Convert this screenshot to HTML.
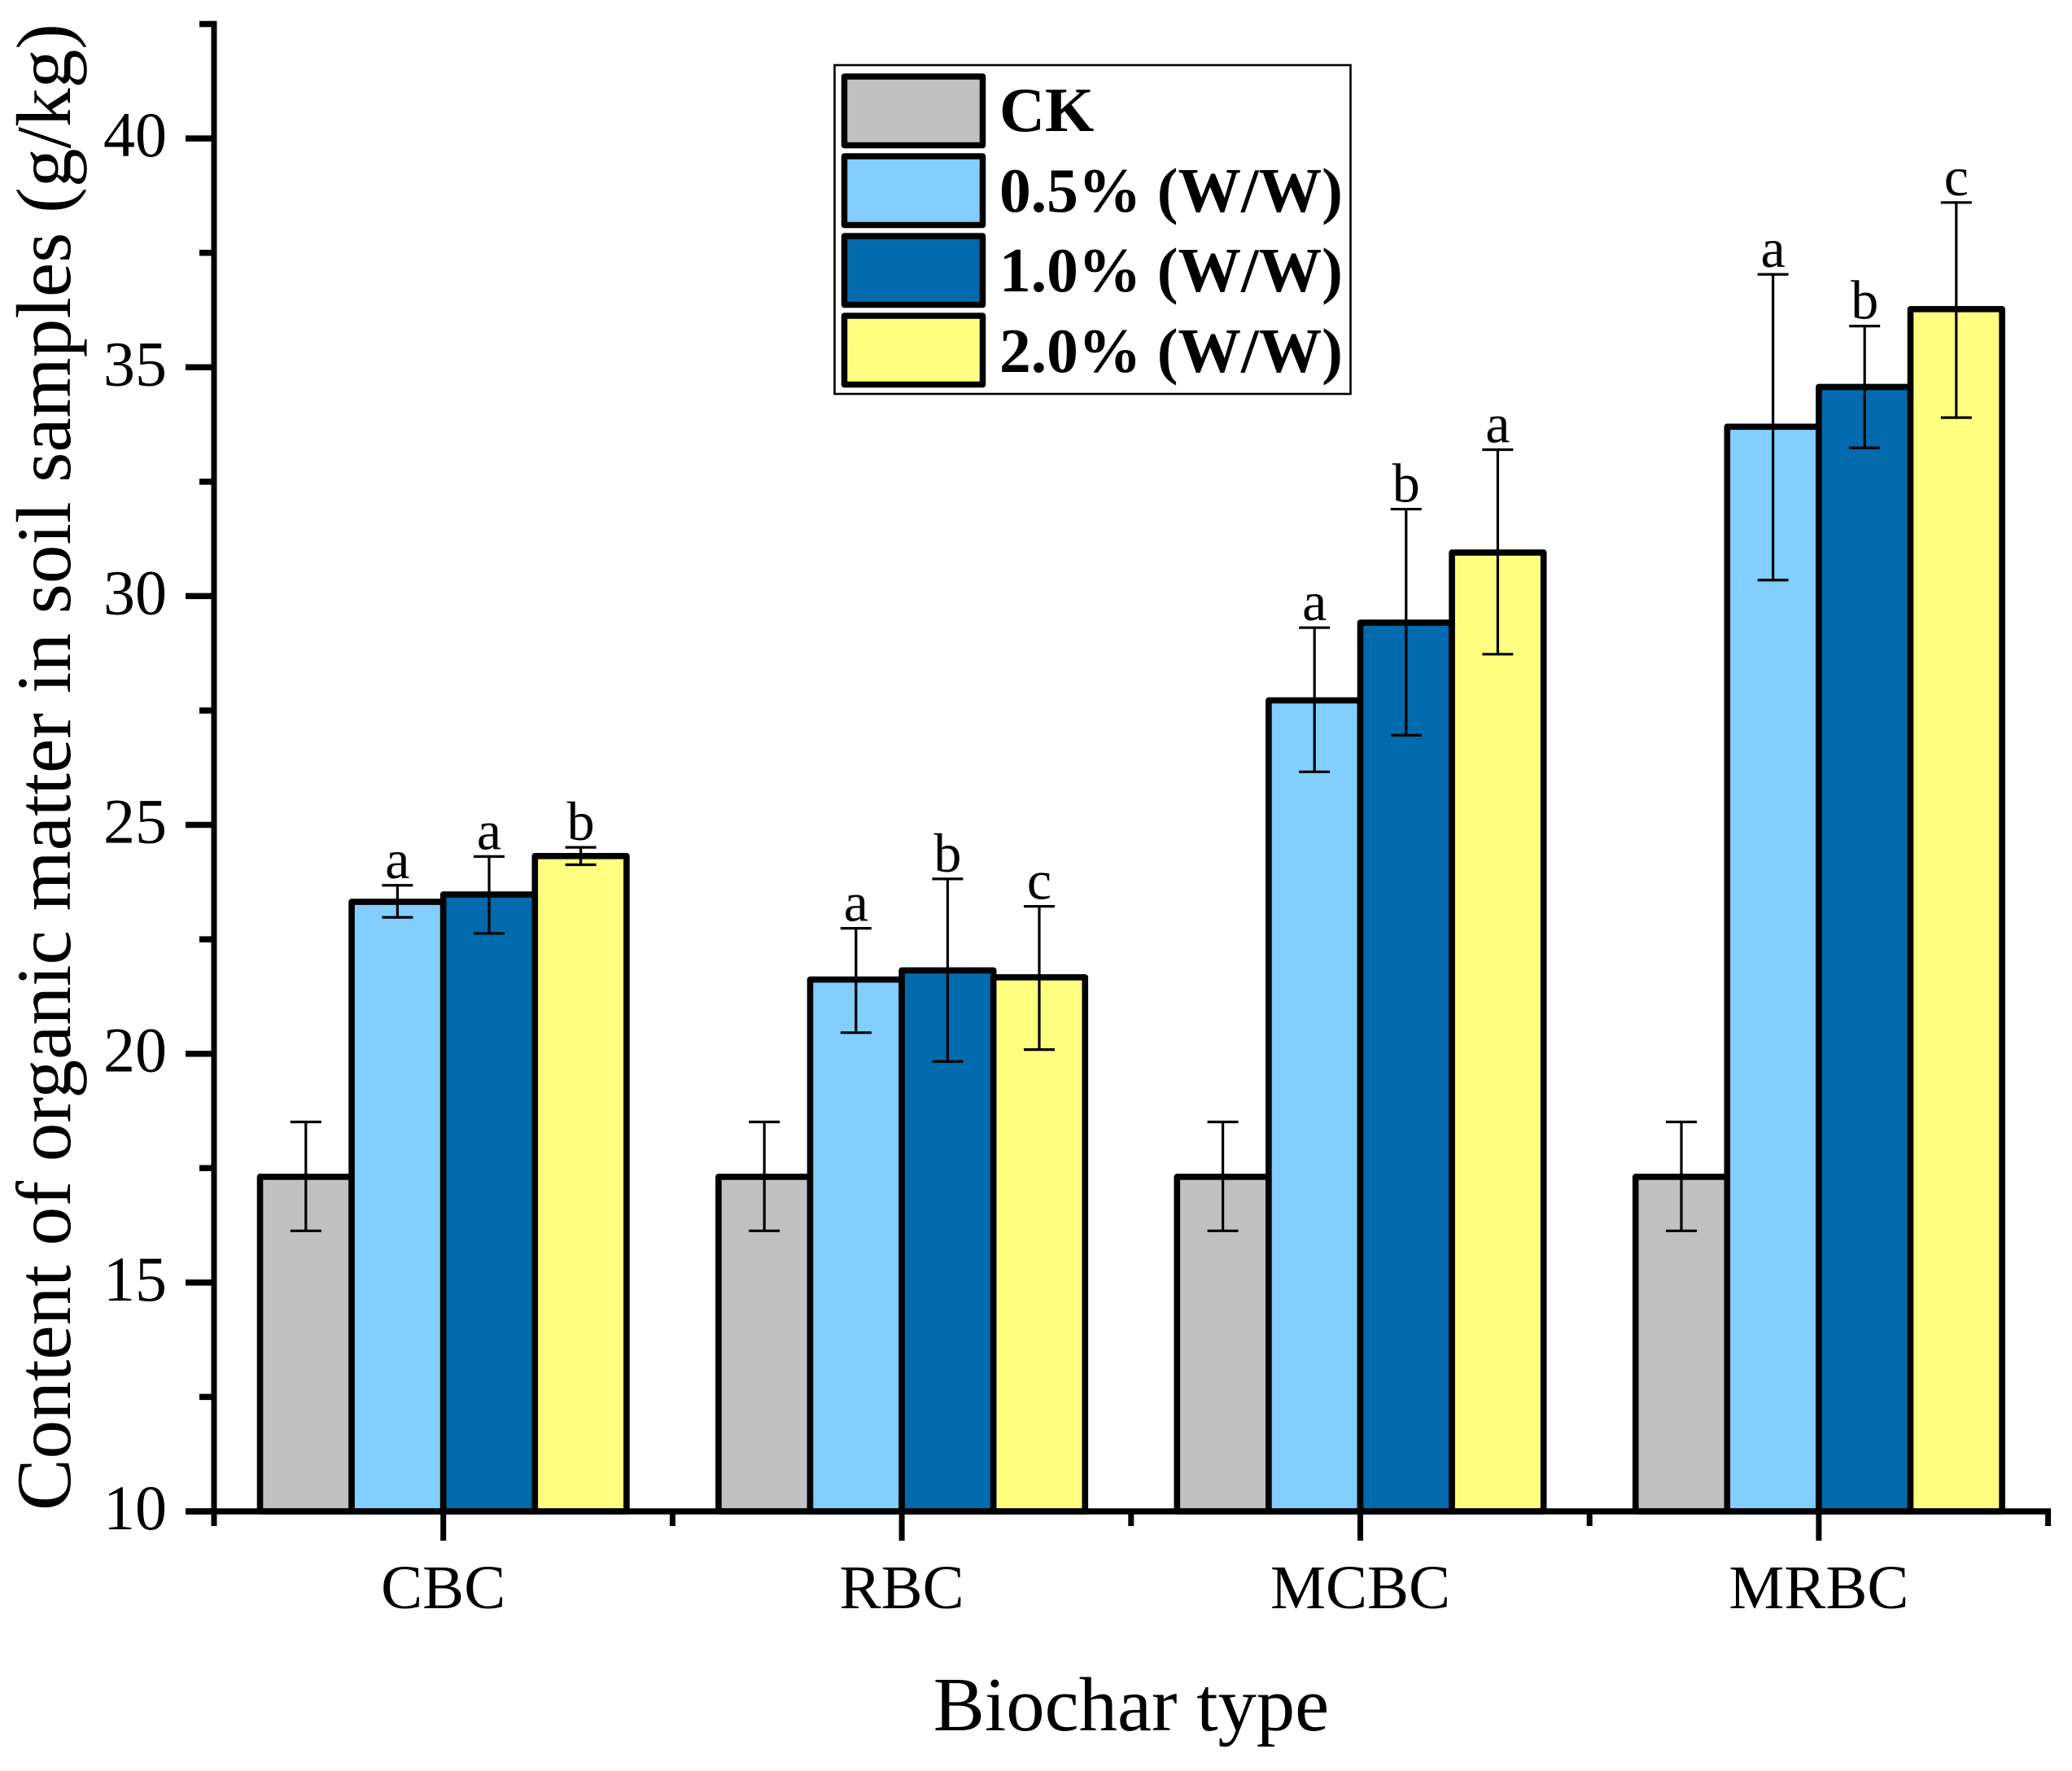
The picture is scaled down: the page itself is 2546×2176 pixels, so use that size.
<!DOCTYPE html>
<html lang="en">
<head>
<meta charset="utf-8">
<title>Content of organic matter in soil samples by biochar type</title>
<style>
  html, body { margin: 0; padding: 0; background: #ffffff; }
  body { width: 2546px; height: 2176px; overflow: hidden; }
  svg { display: block; }
  text { font-family: "Liberation Serif", "Times New Roman", serif; fill: #000000; }
</style>
</head>
<body>
<svg id="chart" xmlns="http://www.w3.org/2000/svg" width="2546" height="2176" viewBox="0 0 2546 2176">
  <rect x="0" y="0" width="2546" height="2176" fill="#ffffff"/>
  <g id="bars"></g>
  <g id="errors"></g>
  <g id="letters"></g>
  <g id="axes"></g>

  <text transform="translate(86,942.5) rotate(-90)" text-anchor="middle" font-size="95.3">Content of organic matter in soil samples (g/kg)</text>
  <text x="1390" y="2126" text-anchor="middle" font-size="94.7">Biochar type</text>

  <g>
    <rect x="1025.5" y="80" width="634" height="404" fill="#ffffff" stroke="#000000" stroke-width="2.6"/>
    <g>
      <rect x="1037.5" y="94" width="170" height="84.5" fill="#C0C0C0" stroke="#000000" stroke-width="7.5" stroke-linejoin="round"/>
      <text x="1228" y="161" font-size="77.5" font-weight="bold">CK</text>
    </g>
    <g>
      <rect x="1037.5" y="192" width="170" height="84.5" fill="#82CEFF" stroke="#000000" stroke-width="7.5" stroke-linejoin="round"/>
      <text x="1228" y="260" font-size="77.5" font-weight="bold">0.5% (W/W)</text>
    </g>
    <g>
      <rect x="1037.5" y="290" width="170" height="84.5" fill="#016AAC" stroke="#000000" stroke-width="7.5" stroke-linejoin="round"/>
      <text x="1228" y="358" font-size="77.5" font-weight="bold">1.0% (W/W)</text>
    </g>
    <g>
      <rect x="1037.5" y="388" width="170" height="84.5" fill="#FFFF80" stroke="#000000" stroke-width="7.5" stroke-linejoin="round"/>
      <text x="1228" y="457" font-size="77.5" font-weight="bold">2.0% (W/W)</text>
    </g>
  </g>
</svg>

<script>
// ---- chart data ----
const categories = ['CBC', 'RBC', 'MCBC', 'MRBC'];
const seriesNames = ['ck', '0-5-percent', '1-0-percent', '2-0-percent'];
const ckValues = [17.31, 17.31, 17.31, 17.31];
const pct05Values = [23.32, 21.62, 27.72, 33.70];
const pct10Values = [23.48, 21.82, 29.42, 34.57];
const pct20Values = [24.32, 21.67, 30.95, 36.27];
const ckErrTop = [18.51, 18.51, 18.51, 18.51];
const ckErrBottom = [16.13, 16.13, 16.13, 16.13];
const pct05ErrTop = [23.68, 22.74, 29.31, 37.03];
const pct05ErrBottom = [22.98, 20.46, 26.16, 30.35];
const pct10ErrTop = [24.31, 23.82, 31.90, 35.90];
const pct10ErrBottom = [22.63, 19.83, 26.96, 33.24];
const pct20ErrTop = [24.51, 23.22, 33.20, 38.60];
const pct20ErrBottom = [24.13, 20.09, 28.73, 33.90];
const pct05Letters = ['a', 'a', 'a', 'a'];
const pct10Letters = ['a', 'b', 'b', 'b'];
const pct20Letters = ['b', 'c', 'a', 'c'];
const yMajorTicks = [10, 15, 20, 25, 30, 35, 40];
const yMinorTicks = [12.5, 17.5, 22.5, 27.5, 32.5, 37.5, 42.5];

// ---- axis functions ----
const Y_BASE = 1857, Y_UNIT = 56.23, Y_MIN = 10;
const X_LEFT = 263, CAT_W = 563.4, BAR_W = 112.6;
function yScale(v) { return Y_BASE - (v - Y_MIN) * Y_UNIT; }
function catEdge(i) { return X_LEFT + i * CAT_W; }
function catCenter(i) { return X_LEFT + (i + 0.5) * CAT_W; }
function barLeft(c, s) { return catCenter(c) + (s - 2) * BAR_W; }

const NS = 'http://www.w3.org/2000/svg';
function make(parent, tag, props, content) {
  const el = document.createElementNS(NS, tag);
  for (const k in props) el.setAttribute(k, props[k]);
  if (content !== undefined) el.textContent = content;
  parent.appendChild(el);
  return el;
}

const barsLayer = document.getElementById('bars');
const errorsLayer = document.getElementById('errors');
const lettersLayer = document.getElementById('letters');
const axesLayer = document.getElementById('axes');

const seriesValues = [ckValues, pct05Values, pct10Values, pct20Values];
const seriesTop = [ckErrTop, pct05ErrTop, pct10ErrTop, pct20ErrTop];
const seriesBottom = [ckErrBottom, pct05ErrBottom, pct10ErrBottom, pct20ErrBottom];
const seriesLetters = [null, pct05Letters, pct10Letters, pct20Letters];
const seriesFill = ['#C0C0C0', '#82CEFF', '#016AAC', '#FFFF80'];

categories.forEach(function (cat, c) {
  seriesValues.forEach(function (vals, s) {
    const top = yScale(vals[c]);
    const bar = make(barsLayer, 'rect', {
      x: barLeft(c, s), y: top, width: BAR_W, height: Y_BASE - top,
      fill: seriesFill[s], stroke: '#000', 'stroke-width': 7.6, 'stroke-linejoin': 'round'
    });
    
    
  });
});

categories.forEach(function (cat, c) {
  seriesValues.forEach(function (vals, s) {
    const cx = barLeft(c, s) + BAR_W / 2;
    const yt = yScale(seriesTop[s][c]);
    const yb = yScale(seriesBottom[s][c]);
    const d = 'M' + cx + ' ' + yt + 'V' + yb +
      'M' + (cx - 19) + ' ' + yt + 'H' + (cx + 19) +
      'M' + (cx - 19) + ' ' + yb + 'H' + (cx + 19);
    const err = make(errorsLayer, 'path', { d: d, fill: 'none', stroke: '#000', 'stroke-width': 3.2 });
    
    

    if (seriesLetters[s]) {
      const letter = make(lettersLayer, 'text', {
        x: cx, y: yt - 9, 'text-anchor': 'middle', 'font-size': 68
      }, seriesLetters[s][c]);
      
      
    }
  });
});

// ---- axes ----
const AXIS_W = 7.5;
const yAxisLine = make(axesLayer, 'line', { x1: X_LEFT, x2: X_LEFT, y1: yScale(42.5) - AXIS_W / 2, y2: 1875, stroke: '#000', 'stroke-width': 7 });



const xAxisLine = make(axesLayer, 'line', { x1: 228, x2: catEdge(4) + 3.5, y1: Y_BASE, y2: Y_BASE, stroke: '#000', 'stroke-width': AXIS_W });



yMajorTicks.forEach(function (v) {
  const t = make(axesLayer, 'line', { x1: 228, x2: X_LEFT, y1: yScale(v), y2: yScale(v), stroke: '#000', 'stroke-width': AXIS_W });
  
  
  const label = make(axesLayer, 'text', { x: 205, y: yScale(v) + 22, 'text-anchor': 'end', 'font-size': 78 }, String(v));
  
  
});

yMinorTicks.forEach(function (v) {
  const t = make(axesLayer, 'line', { x1: 245, x2: X_LEFT, y1: yScale(v), y2: yScale(v), stroke: '#000', 'stroke-width': AXIS_W });
  
  
});

categories.forEach(function (cat, c) {
  const cx = catCenter(c);
  const t = make(axesLayer, 'line', { x1: cx, x2: cx, y1: Y_BASE, y2: 1893, stroke: '#000', 'stroke-width': 7 });
  
  
  const label = make(axesLayer, 'text', { x: cx, y: 1976, 'text-anchor': 'middle', 'font-size': 76.5 }, cat);
  
  
});

for (let i = 1; i <= categories.length; i++) {
  const ex = catEdge(i);
  const t = make(axesLayer, 'line', { x1: ex, x2: ex, y1: Y_BASE, y2: 1875, stroke: '#000', 'stroke-width': 7 });
  
  
}
</script>
</body>
</html>
